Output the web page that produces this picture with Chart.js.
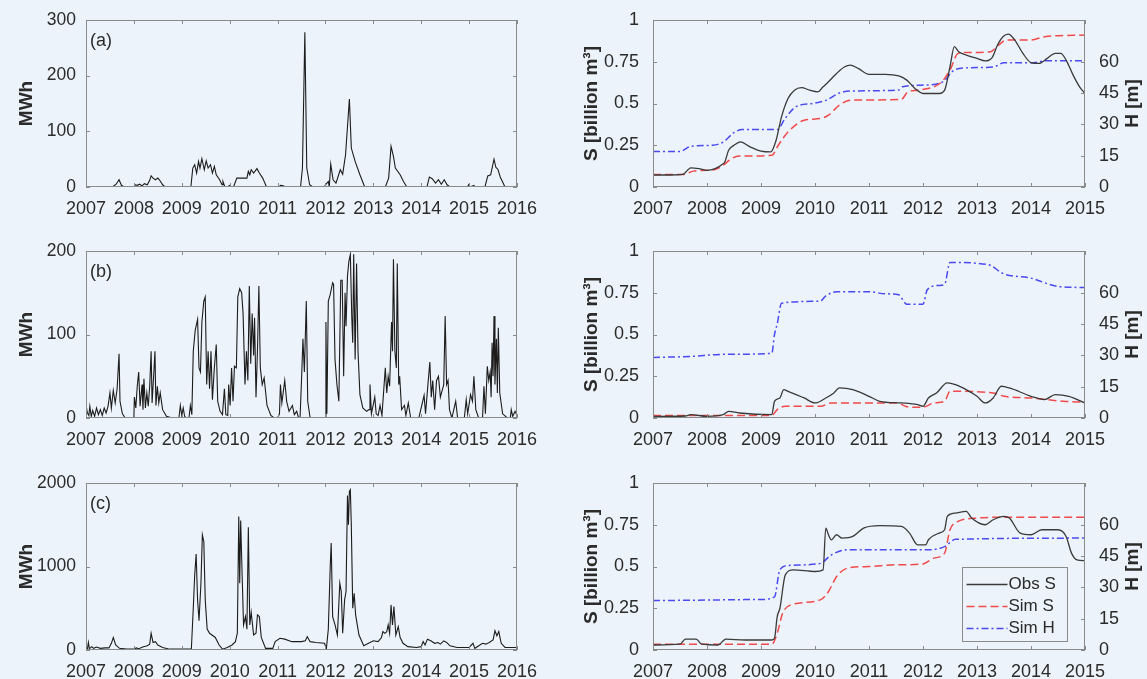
<!DOCTYPE html>
<html>
<head>
<meta charset="utf-8">
<script src="https://cdn.jsdelivr.net/npm/chart.js@4/dist/chart.umd.min.js"></script>
<style>
html,body{margin:0;padding:0;background:#edf3fa;width:1147px;height:679px;overflow:hidden;}
canvas{position:absolute;}
</style>
</head>
<body>
<canvas id="la" width="560" height="231" style="left:0px;top:0px"></canvas>
<canvas id="ra" width="587" height="231" style="left:560px;top:0px"></canvas>
<canvas id="lb" width="560" height="231" style="left:0px;top:231px"></canvas>
<canvas id="rb" width="587" height="231" style="left:560px;top:231px"></canvas>
<canvas id="lc" width="560" height="231" style="left:0px;top:463px"></canvas>
<canvas id="rc" width="587" height="231" style="left:560px;top:463px"></canvas>
<script>
// ---------- tick labels ----------
const leftYearTicks = [2007,2008,2009,2010,2011,2012,2013,2014,2015,2016];
const rightYearTicks = [2007,2008,2009,2010,2011,2012,2013,2014,2015];
const aPowerTicks = [0,100,200,300];
const bPowerTicks = [0,100,200];
const cPowerTicks = [0,1000,2000];
const storageTicks = [0,0.25,0.5,0.75,1];
const headTicks = [0,15,30,45,60];
const panelLabels = ['(a)','(b)','(c)'];
const seriesNames = ['Obs S','Sim S','Sim H'];

// ---------- (a) hydropower ----------
const aYears = [2007.00,2007.55,2007.63,2007.69,2007.74,2007.80,2008.00,2008.03,2008.07,2008.12,2008.17,2008.22,2008.28,2008.33,2008.36,2008.40,2008.45,2008.50,2008.54,2008.60,2008.65,
2009.19,2009.23,2009.27,2009.31,2009.35,2009.38,2009.42,2009.47,2009.51,2009.55,2009.60,2009.64,2009.68,2009.72,2009.79,2009.84,2009.86,2009.90,2009.95,2010.00,2010.04,2010.08,2010.15,2010.36,2010.39,2010.42,2010.45,2010.50,2010.57,2010.62,2010.69,2010.77,
2011.03,2011.06,2011.12,2011.16,2011.48,2011.52,2011.57,2011.61,2011.67,2011.74,
2011.98,2012.00,2012.06,2012.08,2012.11,2012.16,2012.22,2012.31,2012.36,2012.42,2012.50,2012.54,2012.62,2012.72,2012.82,
2013.25,2013.32,2013.37,2013.42,2013.46,2013.56,2013.63,2013.70,
2014.12,2014.17,2014.23,2014.30,2014.36,2014.42,2014.48,2014.54,2014.60,
2014.97,2014.99,2015.02,2015.10,2015.12,2015.33,2015.39,2015.45,2015.52,2015.56,2015.60,2015.65,2015.75,2016.00];
const aMWh = [0,0,5,13,3,0,0,4,3,5,2,6,4,12,20,16,13,16,12,4,0,
0,34,40,25,46,34,51,31,47,34,40,25,37,22,13,4,10,0,0,3,0,0,16,16,28,22,31,25,33,25,16,0,
0,3,2,0,0,34,278,34,4,0,
0,4,10,0,41,13,7,31,23,58,158,70,46,22,0,
0,16,73,55,34,22,10,0,
0,18,15,7,13,5,13,4,0,
0,4,0,3,0,0,20,22,50,35,32,18,0,0];

// ---------- (b) hydropower ----------
const bYears = [2007.00,2007.03,2007.06,2007.08,2007.11,2007.14,2007.18,2007.22,2007.26,2007.30,2007.34,2007.38,2007.42,2007.46,2007.50,2007.53,2007.57,2007.61,2007.65,2007.69,2007.71,2007.76,2007.82,
2008.00,2008.01,2008.04,2008.07,2008.10,2008.13,2008.17,2008.19,2008.21,2008.24,2008.27,2008.30,2008.33,2008.36,2008.38,2008.41,2008.44,2008.46,2008.49,2008.52,2008.55,2008.60,2008.68,2008.80,
2008.94,2008.97,2009.00,2009.03,2009.06,2009.10,2009.15,2009.18,2009.21,2009.24,2009.28,2009.33,2009.36,2009.39,2009.42,2009.46,2009.49,2009.52,2009.55,2009.58,2009.61,2009.64,2009.68,2009.72,2009.75,2009.80,2009.85,2009.89,2009.92,2009.96,
2009.98,2010.01,2010.04,2010.07,2010.10,2010.14,2010.17,2010.21,2010.25,2010.28,2010.32,2010.35,2010.38,2010.41,2010.44,2010.47,2010.50,2010.52,2010.55,2010.58,2010.61,2010.64,2010.68,2010.72,2010.78,2010.86,2010.93,
2011.00,2011.04,2011.06,2011.09,2011.15,2011.19,2011.24,2011.31,2011.35,2011.40,2011.44,2011.47,2011.50,2011.53,2011.56,2011.60,2011.63,2011.68,
2012.00,2012.01,2012.03,2012.06,2012.10,2012.15,2012.17,2012.20,2012.24,2012.28,2012.32,2012.35,2012.38,2012.41,2012.43,2012.46,2012.49,2012.52,2012.55,2012.57,2012.59,2012.62,2012.65,2012.68,2012.72,2012.78,2012.86,2012.91,2012.93,2012.96,
2013.03,2013.06,2013.10,2013.14,2013.18,2013.25,2013.28,2013.31,2013.34,2013.38,2013.40,2013.42,2013.45,2013.48,2013.50,2013.53,2013.55,2013.59,2013.65,2013.68,2013.73,2013.78,
2013.95,2014.06,2014.09,2014.14,2014.18,2014.21,2014.24,2014.28,2014.32,2014.36,2014.40,2014.47,2014.50,2014.53,2014.56,2014.59,2014.64,2014.72,2014.76,
2014.90,2014.94,2014.97,2015.03,2015.07,2015.10,2015.14,2015.20,2015.28,2015.31,2015.34,2015.38,2015.41,2015.44,2015.46,2015.48,2015.50,2015.52,2015.54,2015.57,2015.59,2015.61,2015.64,2015.70,2015.80,2015.86,2015.88,2015.91,2015.96,2016.00];
const bMWh = [15,6,3,14,2,9,2,12,4,10,3,12,6,14,30,12,33,18,35,77,20,5,0,
0,25,12,38,55,14,40,10,47,12,30,14,38,80,18,48,80,15,38,18,30,10,2,0,
0,15,3,12,2,0,0,15,4,80,105,118,60,55,115,140,145,40,80,35,80,22,60,88,20,8,4,35,4,3,
40,15,60,20,62,60,145,155,150,125,40,80,45,158,65,125,75,120,25,80,158,60,40,48,15,3,0,
0,5,40,18,45,20,8,15,4,8,0,0,45,95,55,140,20,0,
0,115,5,140,148,162,160,70,40,20,165,165,50,150,110,170,188,196,120,90,196,70,185,80,28,12,8,10,40,5,
25,5,3,15,3,60,30,50,38,115,80,190,80,60,185,40,50,10,15,3,18,0,
0,27,5,40,67,25,45,10,45,50,25,40,122,40,45,10,0,20,0,
0,22,5,28,20,50,10,0,0,38,5,62,45,55,25,90,50,122,40,95,30,108,30,5,0,0,10,2,8,3];

// ---------- (c) hydropower ----------
const cYears = [2007.00,2007.03,2007.05,2007.07,2007.12,2007.16,2007.22,2007.30,2007.40,2007.48,2007.53,2007.57,2007.62,2007.70,2007.85,
2008.00,2008.05,2008.10,2008.20,2008.28,2008.33,2008.36,2008.40,2008.45,2008.50,2008.60,2008.75,
2009.00,2009.20,2009.24,2009.27,2009.30,2009.33,2009.36,2009.40,2009.43,2009.46,2009.49,2009.53,2009.58,2009.63,2009.70,2009.78,2009.85,2009.95,
2010.05,2010.12,2010.16,2010.19,2010.21,2010.23,2010.26,2010.29,2010.33,2010.36,2010.39,2010.42,2010.45,2010.50,2010.55,2010.58,2010.62,2010.66,2010.75,2010.90,2010.95,
2011.05,2011.15,2011.30,2011.50,2011.58,2011.62,2011.68,2011.80,2011.98,
2012.02,2012.06,2012.10,2012.12,2012.15,2012.20,2012.25,2012.30,2012.33,2012.36,2012.40,2012.43,2012.46,2012.48,2012.50,2012.52,2012.54,2012.57,2012.60,2012.63,2012.70,2012.80,2012.90,
2013.00,2013.10,2013.17,2013.20,2013.24,2013.28,2013.31,2013.34,2013.37,2013.40,2013.43,2013.47,2013.52,2013.56,2013.62,2013.72,2013.90,
2014.00,2014.04,2014.08,2014.13,2014.20,2014.28,2014.35,2014.40,2014.47,2014.53,2014.60,2014.75,
2015.00,2015.08,2015.12,2015.28,2015.35,2015.42,2015.50,2015.54,2015.58,2015.62,2015.67,2015.75,2016.00];
const cMWh = [20,15,90,15,40,20,35,20,25,25,80,150,60,20,10,
10,25,15,40,50,70,200,90,100,60,30,10,
10,10,500,900,1150,600,350,800,1380,1300,600,250,200,180,150,60,10,30,
60,100,200,1600,800,1550,900,300,400,250,1470,300,450,180,200,420,400,150,20,20,100,
140,130,100,100,110,160,100,90,80,
20,250,1000,1280,400,300,180,800,700,200,600,700,1850,1500,1900,1920,1500,500,680,420,180,50,80,
110,100,150,220,200,220,300,200,540,300,520,180,280,150,80,40,30,
40,100,60,130,110,80,90,70,110,90,50,30,
30,80,20,80,70,90,120,230,170,220,80,30,30];

// ---------- (a) storage / head ----------
const aObsYears = [2007.00,2007.30,2007.55,2007.70,2007.85,2008.00,2008.15,2008.28,2008.33,2008.40,2008.50,2008.62,2008.80,2009.00,2009.18,2009.28,2009.38,2009.50,2009.62,2009.75,2009.90,2010.05,2010.15,2010.25,2010.40,2010.55,2010.65,2010.80,2011.00,2011.30,2011.55,2011.70,2011.85,2012.00,2012.15,2012.30,2012.40,2012.50,2012.58,2012.66,2012.80,2013.00,2013.15,2013.28,2013.38,2013.48,2013.58,2013.70,2013.85,2014.00,2014.15,2014.30,2014.45,2014.55,2014.65,2014.78,2014.90,2015.00];
const aObsS = [0.072,0.072,0.075,0.115,0.11,0.10,0.11,0.135,0.15,0.22,0.25,0.27,0.24,0.215,0.21,0.28,0.42,0.53,0.58,0.595,0.58,0.57,0.6,0.63,0.68,0.72,0.73,0.71,0.675,0.675,0.665,0.64,0.59,0.56,0.56,0.56,0.58,0.72,0.84,0.81,0.79,0.77,0.755,0.775,0.85,0.9,0.915,0.88,0.8,0.745,0.74,0.77,0.80,0.80,0.76,0.67,0.6,0.56];
const aSimSYears = [2007.00,2007.55,2007.75,2008.00,2008.15,2008.30,2008.45,2008.60,2009.20,2009.32,2009.45,2009.60,2009.80,2010.10,2010.25,2010.45,2010.65,2011.60,2011.72,2011.90,2012.20,2012.35,2012.50,2012.65,2012.80,2013.25,2013.40,2013.55,2014.00,2014.25,2015.00];
const aSimS = [0.075,0.075,0.095,0.10,0.105,0.13,0.17,0.185,0.19,0.25,0.31,0.36,0.40,0.41,0.43,0.49,0.52,0.525,0.57,0.58,0.6,0.63,0.70,0.80,0.805,0.81,0.85,0.88,0.88,0.9,0.91];
const aSimHYears = [2007.00,2007.50,2007.70,2008.10,2008.30,2008.50,2008.65,2009.30,2009.45,2009.65,2009.95,2010.20,2010.45,2010.70,2011.55,2011.62,2012.15,2012.40,2012.55,2012.75,2013.30,2013.50,2014.00,2014.30,2015.00];
const aSimH = [17,17,19.5,20,21.5,26,27.5,27.5,33,38.5,40,41.5,45,46,46.5,48,49,51,55.5,57,57.5,59.5,59.5,60.5,60.5];

// ---------- (b) storage / head ----------
const bObsYears = [2007.00,2007.60,2007.70,2008.00,2008.30,2008.40,2008.60,2009.20,2009.25,2009.35,2009.42,2009.50,2009.80,2010.00,2010.20,2010.35,2010.45,2010.70,2011.00,2011.20,2011.60,2011.90,2012.00,2012.10,2012.25,2012.45,2012.60,2012.80,2013.00,2013.15,2013.30,2013.45,2013.60,2014.00,2014.25,2014.45,2014.70,2015.00];
const bObsS = [0.01,0.012,0.02,0.01,0.02,0.04,0.03,0.02,0.10,0.12,0.17,0.16,0.12,0.09,0.12,0.15,0.18,0.17,0.13,0.10,0.09,0.08,0.07,0.12,0.15,0.21,0.20,0.17,0.13,0.09,0.12,0.19,0.18,0.13,0.11,0.14,0.13,0.09];
const bSimSYears = [2007.00,2009.20,2009.30,2009.45,2010.10,2010.30,2011.50,2011.75,2012.00,2012.20,2012.40,2012.50,2013.30,2013.50,2014.00,2014.30,2014.60,2015.00];
const bSimS = [0.015,0.015,0.05,0.07,0.07,0.09,0.09,0.065,0.065,0.09,0.10,0.16,0.15,0.13,0.12,0.11,0.10,0.095];
const bSimHYears = [2007.00,2007.70,2008.30,2009.20,2009.25,2009.30,2009.38,2010.10,2010.20,2010.40,2011.00,2011.30,2011.55,2011.70,2012.00,2012.08,2012.30,2012.40,2012.50,2013.20,2013.50,2014.00,2014.50,2015.00];
const bSimH = [29,29.5,30.5,31,40,45,55,56,58.5,60.5,60.5,59.5,59,54.5,54.5,61.5,63.5,64,74.5,73.5,69,67,63,62.5];

// ---------- (c) storage / head ----------
const cObsYears = [2007.00,2007.50,2007.60,2007.80,2007.90,2008.20,2008.35,2008.70,2009.20,2009.25,2009.30,2009.35,2009.45,2009.60,2010.00,2010.15,2010.20,2010.25,2010.30,2010.40,2010.50,2010.70,2010.90,2011.20,2011.60,2011.75,2011.90,2012.05,2012.10,2012.30,2012.40,2012.45,2012.60,2012.80,2012.90,2013.15,2013.30,2013.50,2013.60,2013.80,2014.00,2014.20,2014.50,2014.65,2014.75,2014.85,2015.00];
const cObsS = [0.03,0.035,0.065,0.065,0.035,0.03,0.065,0.06,0.06,0.07,0.2,0.25,0.45,0.48,0.47,0.48,0.73,0.69,0.66,0.69,0.67,0.68,0.73,0.745,0.74,0.7,0.63,0.63,0.66,0.7,0.72,0.8,0.82,0.83,0.79,0.75,0.78,0.8,0.79,0.7,0.69,0.72,0.72,0.68,0.58,0.54,0.535];
const cSimSYears = [2007.00,2009.20,2009.30,2009.40,2009.55,2010.10,2010.25,2010.40,2010.60,2011.00,2011.50,2012.00,2012.20,2012.40,2012.50,2012.65,2013.00,2013.40,2015.00];
const cSimS = [0.035,0.035,0.10,0.22,0.27,0.30,0.35,0.44,0.49,0.50,0.51,0.515,0.55,0.58,0.72,0.77,0.79,0.795,0.795];
const cSimHYears = [2007.00,2009.00,2009.25,2009.35,2009.50,2010.10,2010.30,2010.60,2012.10,2012.40,2012.60,2015.00];
const cSimH = [23.7,24.2,25.5,38.5,40.5,41.5,45.5,48,48,49.5,53,53.6];

// ---------- helpers ----------
const FONT = "'Liberation Sans', Arial, Helvetica, sans-serif";
Chart.defaults.font.family = FONT;
Chart.defaults.color = '#2b2b2b';
const BG = '#edf3fa';
const FRAME = '#8a8a8a';
const toXY = (xs, ys) => xs.map((x, i) => ({x: x, y: ys[i]}));
const setTicks = arr => (s => { s.ticks = arr.map(v => ({value: v})); });
const noGrid = {display: false, drawTicks: false, tickLength: 0};
const fitY = w => (s => { s.width = w; s.paddingTop = 0; s.paddingBottom = 0; });
const fitX = h => (s => { s.height = h; s.paddingLeft = 0; s.paddingRight = 0; });

const framePlugin = {
  id: 'frame',
  afterDatasetsDraw(chart, args, o) {
    const ctx = chart.ctx;
    const {left, right, top, bottom} = chart.chartArea;
    const L = 4;
    ctx.save();
    ctx.strokeStyle = FRAME;
    ctx.lineWidth = 1;
    ctx.strokeRect(Math.round(left) + 0.5, Math.round(top) + 0.5, Math.round(right - left) - 1, Math.round(bottom - top) - 1);
    ctx.beginPath();
    const xs = chart.scales.x;
    xs.ticks.forEach(t => {
      const p = Math.round(xs.getPixelForValue(t.value)) + 0.5;
      ctx.moveTo(p, bottom); ctx.lineTo(p, bottom - L);
      ctx.moveTo(p, top); ctx.lineTo(p, top + L);
    });
    const ys = chart.scales.y;
    ys.ticks.forEach(t => {
      const p = Math.round(ys.getPixelForValue(t.value)) + 0.5;
      ctx.moveTo(left, p); ctx.lineTo(left + L, p);
      if (!chart.scales.y2) { ctx.moveTo(right, p); ctx.lineTo(right - L, p); }
    });
    if (chart.scales.y2) {
      const y2 = chart.scales.y2;
      y2.ticks.forEach(t => {
        const p = Math.round(y2.getPixelForValue(t.value)) + 0.5;
        ctx.moveTo(right, p); ctx.lineTo(right - L, p);
      });
    }
    ctx.stroke();
    ctx.fillStyle = '#2b2b2b';
    if (o.label) {
      ctx.font = '18px ' + FONT;
      ctx.textAlign = 'left';
      ctx.textBaseline = 'middle';
      ctx.fillText(o.label, left + 4, top + 21);
    }
    if (o.rightTitle) {
      ctx.font = 'bold 19px ' + FONT;
      ctx.textAlign = 'center';
      ctx.textBaseline = 'middle';
      ctx.translate(o.rightTitleX, (top + bottom) / 2);
      ctx.rotate(-Math.PI / 2);
      ctx.fillText(o.rightTitle, 0, 0);
      ctx.setTransform(1, 0, 0, 1, 0, 0);
    }
    if (o.legend) {
      const w = 105, h = 74;
      const bx = Math.round(right - 18 - w) + 0.5, by = Math.round(bottom - 9 - h) + 0.5;
      ctx.fillStyle = BG;
      ctx.fillRect(bx, by, w, h);
      ctx.strokeStyle = FRAME;
      ctx.strokeRect(bx, by, w, h);
      ctx.font = '17px ' + FONT;
      ctx.textAlign = 'left';
      ctx.textBaseline = 'middle';
      chart.data.datasets.forEach((d, i) => {
        const yy = by + 17 + i * 22;
        ctx.strokeStyle = d.borderColor;
        ctx.lineWidth = d.borderWidth;
        ctx.setLineDash(d.borderDash || []);
        ctx.beginPath();
        ctx.moveTo(bx + 4, yy); ctx.lineTo(bx + 45, yy);
        ctx.stroke();
        ctx.setLineDash([]);
        ctx.fillStyle = '#2b2b2b';
        ctx.fillText(d.label, bx + 46, yy);
      });
    }
    ctx.restore();
  }
};

function tickFont() { return {size: 18}; }

function leftPanel(id, years, vals, yTicks, label) {
  return new Chart(document.getElementById(id), {
    type: 'line',
    data: {datasets: [{data: toXY(years, vals), borderColor: '#1c1c1c', borderWidth: 1.1, pointRadius: 0, tension: 0, fill: false}]},
    options: {
      responsive: false, animation: false, parsing: false,
      layout: {padding: {left: 0, top: 20, right: 43, bottom: 0}},
      plugins: {legend: {display: false}, tooltip: {enabled: false}, frame: {label: label}},
      scales: {
        x: {type: 'linear', min: 2007, max: 2016, afterBuildTicks: setTicks(leftYearTicks),
            afterFit: fitX(44),
            grid: noGrid, border: {display: false},
            ticks: {font: tickFont(), padding: 11, maxRotation: 0, autoSkip: false, callback: v => String(v)}},
        y: {type: 'linear', min: yTicks[0], max: yTicks[yTicks.length - 1], afterBuildTicks: setTicks(yTicks),
            afterFit: fitY(86),
            grid: noGrid, border: {display: false},
            title: {display: true, text: 'MWh', font: {size: 19, weight: 'bold'}, padding: {top: 15, bottom: 0}},
            ticks: {font: {size: 17.5}, padding: 10, callback: v => String(v)}}
      }
    },
    plugins: [framePlugin]
  });
}

function rightPanel(id, obsY, obs, simSY, simS, simHY, simH, legend) {
  return new Chart(document.getElementById(id), {
    type: 'line',
    data: {datasets: [
      {label: seriesNames[0], data: toXY(obsY, obs), yAxisID: 'y', borderColor: '#3a3a3a', borderWidth: 1.3, pointRadius: 0, cubicInterpolationMode: 'monotone', fill: false},
      {label: seriesNames[1], data: toXY(simSY, simS), yAxisID: 'y', borderColor: '#f04a4a', borderWidth: 1.5, borderDash: [8, 4], pointRadius: 0, cubicInterpolationMode: 'monotone', fill: false},
      {label: seriesNames[2], data: toXY(simHY, simH), yAxisID: 'y2', borderColor: '#4a4af5', borderWidth: 1.5, borderDash: [7, 3, 2, 3], pointRadius: 0, cubicInterpolationMode: 'monotone', fill: false}
    ]},
    options: {
      responsive: false, animation: false, parsing: false,
      layout: {padding: {left: 0, top: 20, right: 12, bottom: 0}},
      plugins: {legend: {display: false}, tooltip: {enabled: false}, frame: {rightTitle: 'H [m]', rightTitleX: 573, legend: legend}},
      scales: {
        x: {type: 'linear', min: 2007, max: 2015, afterBuildTicks: setTicks(rightYearTicks),
            afterFit: fitX(44),
            grid: noGrid, border: {display: false},
            ticks: {font: tickFont(), padding: 11, maxRotation: 0, autoSkip: false, callback: v => String(v)}},
        y: {type: 'linear', position: 'left', min: 0, max: 1, afterBuildTicks: setTicks(storageTicks),
            afterFit: fitY(93),
            grid: noGrid, border: {display: false},
            title: {display: true, text: 'S [billion m³]', font: {size: 19, weight: 'bold'}, padding: {top: 20, bottom: 0}},
            ticks: {font: tickFont(), padding: 14, callback: v => String(v)}},
        y2: {type: 'linear', position: 'right', min: 0, max: 80, afterBuildTicks: setTicks(headTicks),
            afterFit: fitY(50),
            grid: noGrid, border: {display: false},
            ticks: {font: tickFont(), padding: 14, callback: v => String(v)}}
      }
    },
    plugins: [framePlugin]
  });
}

leftPanel('la', aYears, aMWh, aPowerTicks, panelLabels[0]);
leftPanel('lb', bYears, bMWh, bPowerTicks, panelLabels[1]);
leftPanel('lc', cYears, cMWh, cPowerTicks, panelLabels[2]);
rightPanel('ra', aObsYears, aObsS, aSimSYears, aSimS, aSimHYears, aSimH, false);
rightPanel('rb', bObsYears, bObsS, bSimSYears, bSimS, bSimHYears, bSimH, false);
rightPanel('rc', cObsYears, cObsS, cSimSYears, cSimS, cSimHYears, cSimH, true);
</script>
</body>
</html>
